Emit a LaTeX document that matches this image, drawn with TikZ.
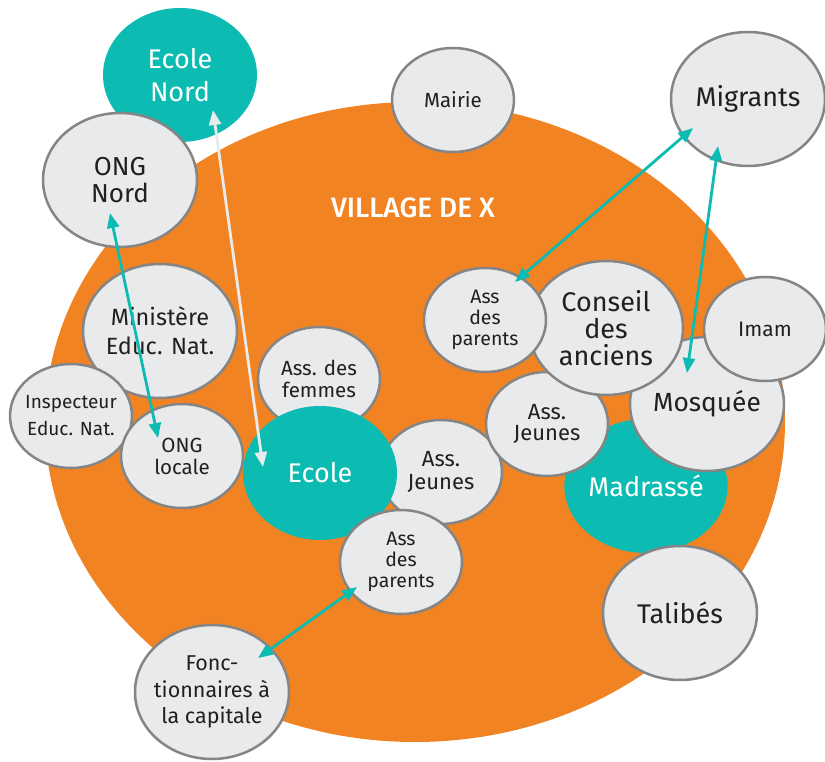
\documentclass[tikz,border=0pt]{standalone}
\usepackage{fontspec}
\setmainfont{Fira Sans}
\newfontfamily\titrefont{Fira Sans Medium}
\usetikzlibrary{shapes.geometric,arrows.meta}

\definecolor{orangevillage}{HTML}{F28322}
\definecolor{turquoise}{HTML}{0CBBB1}
\definecolor{grisfond}{HTML}{E9EAEC}
\definecolor{grisbord}{HTML}{858585}
\definecolor{texte}{HTML}{231F20}

\tikzset{
  acteur/.style={ellipse, draw=grisbord, line width=2.5pt, fill=grisfond, text=texte, inner sep=0pt, inner xsep=-12pt, align=center},
  grand/.style={acteur, minimum width=154pt, minimum height=134pt, font=\fontsize{27}{27}\selectfont},
  petit/.style={acteur, minimum width=122pt, minimum height=104pt, font=\fontsize{20.5}{21.5}\selectfont},
  ecole/.style={ellipse, fill=turquoise, text=white, inner sep=0pt, align=center, minimum width=154pt, minimum height=134pt, font=\fontsize{27}{27}\selectfont},
  lien/.style={<->, line width=2.8pt, draw=turquoise},
}

\begin{document}
\begin{tikzpicture}[x=1pt, y=-1pt, >={Triangle[length=15pt,width=12pt]}]
        \useasboundingbox (0,0) rectangle (825,762);
        \node[ellipse, fill=orangevillage, inner sep=0pt, minimum width=740pt, minimum height=640pt] at (415, 422)(village){};
        \node[text=white, font=\titrefont\fontsize{28}{28}\selectfont] at (413, 208)(titre){VILLAGE DE X};

        \node[ecole, font=\fontsize{27}{33}\selectfont] at (180, 75)(ecolenord){Ecole\\Nord};
        \node[grand, font=\fontsize{26}{27}\selectfont] at (120, 180)(ongnord){ONG\\Nord};
        \node[grand, font=\fontsize{23.5}{29}\selectfont] at (160, 331)(ministere){Ministère\\Educ. Nat.};
        \node[petit, font=\fontsize{19}{27}\selectfont] at (71, 416)(inspecteur){Inspecteur\\Educ. Nat.};
        \node[petit, font=\fontsize{20.5}{22}\selectfont] at (182, 456)(onglocale){ONG\\locale};
        \node[petit] at (319, 379)(femmes){Ass. des\\femmes};
        \node[petit, font=\fontsize{22}{23}\selectfont] at (441, 472)(jeunesm){Ass.\\Jeunes};
        \node[ecole] at (320, 473)(ecole){Ecole};
        \node[petit, font=\fontsize{19.5}{21}\selectfont] at (401, 562)(parentsb){Ass\\des\\parents};
        \node[grand, font=\fontsize{21.5}{26.5}\selectfont] at (212, 692)(fonct){Fonc-\\tionnaires à\\la capitale};
        \node[petit] at (453, 100)(mairie){Mairie};
        \node[grand] at (748, 99)(migrants){Migrants};
        \node[ecole] at (646, 486)(madrasse){Madrassé};
        \node[grand, font=\fontsize{26.3}{27}\selectfont] at (707, 404)(mosquee){Mosquée};
        \node[petit, font=\fontsize{21}{22}\selectfont] at (765, 329)(imam){Imam};
        \node[petit, font=\fontsize{22}{21.5}\selectfont] at (547, 424)(jeunesd){Ass.\\Jeunes};
        \node[grand] at (606, 328)(conseil){Conseil\\des\\anciens};
        \node[petit, font=\fontsize{19.5}{21}\selectfont] at (485, 320)(parentsh){Ass\\des\\parents};
        \node[grand] at (680, 613)(talibes){Talibés};

        % bouts des fleches
        \coordinate (ecolenordbout) at (213, 110);
        \coordinate (ecolebout) at (263, 467);
        \coordinate (ongnordbout) at (110, 213);
        \coordinate (onglocalebout) at (158, 438);
        \coordinate (migrantsbouta) at (693, 128);
        \coordinate (parentshbout) at (515, 282);
        \coordinate (migrantsboutb) at (718, 146);
        \coordinate (mosqueebout) at (687, 373);
        \coordinate (parentsbbout) at (357, 587);
        \coordinate (fonctbout) at (258, 658);

        \path
        (ecolebout)edge[lien, draw=grisfond](ecolenordbout)
        (ongnordbout)edge[lien](onglocalebout)
        (migrantsbouta)edge[lien](parentshbout)
        (migrantsboutb)edge[lien](mosqueebout)
        (parentsbbout)edge[lien](fonctbout)
        ;
    \end{tikzpicture}
\end{document}
